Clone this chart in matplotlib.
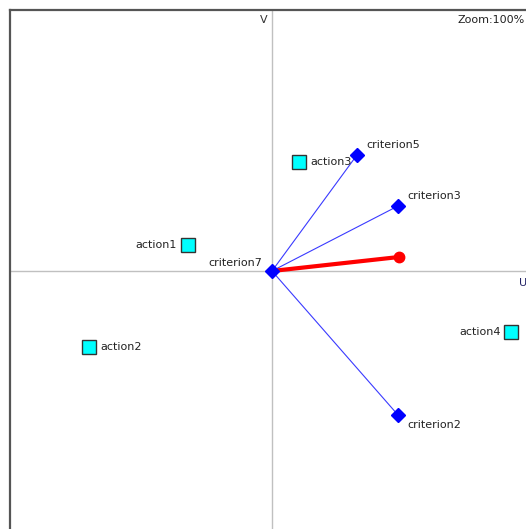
import matplotlib
matplotlib.use("Agg")
import matplotlib.pyplot as plt


# criteria (blue diamonds, joined to the origin)
crit_names = ["criterion7", "criterion5", "criterion3", "criterion2"]
crit_u = [0.0, 0.85, 1.26, 1.26]
crit_v = [0.0, 1.16, 0.65, -1.44]

# decision axis (red)
pi_u = 1.27
pi_v = 0.14

# actions (cyan squares)
act_names = ["action1", "action2", "action3", "action4"]
act_u = [-0.84, -1.83, 0.27, 2.39]
act_v = [0.26, -0.76, 1.09, -0.61]

# label placement (offset in points, alignment)
crit_place = {
    "criterion7": ((-7, 6), "right"),
    "criterion5": ((6.5, 7), "left"),
    "criterion3": ((7, 7), "left"),
    "criterion2": ((7, -7), "left"),
}
act_place = {
    "action1": ((-8, 0), "right"),
    "action2": ((8, 0), "left"),
    "action3": ((8, 0), "left"),
    "action4": ((-7, 0), "right"),
}

fig = plt.figure(figsize=(5.26, 5.29), dpi=100)
ax = fig.add_axes([10 / 526, 0, 516 / 526, 519 / 529])
ax.set_xlim(-2.62, 2.54)
ax.set_ylim(-2.58, 2.61)

for s in ["right", "bottom"]:
    ax.spines[s].set_visible(False)
for s in ["left", "top"]:
    ax.spines[s].set_color("#555555")
    ax.spines[s].set_linewidth(1.6)
ax.set_xticks([])
ax.set_yticks([])

# axes through the origin
ax.axhline(0, color="#c0c0c0", lw=1, zorder=1)
ax.axvline(0, color="#c0c0c0", lw=1, zorder=1)

# criteria lines
for u, v in zip(crit_u, crit_v):
    ax.plot([0, u], [0, v], color="#3a3aff", lw=0.8, zorder=2)

# red pi axis
ax.plot([0, pi_u], [0, pi_v], color="red", lw=3, zorder=3)
ax.plot(pi_u, pi_v, "o", color="red", ms=7.5, zorder=4)

ax.plot(crit_u, crit_v, "D", color="#0000ff", ms=7, ls="none", zorder=5)
for n, u, v in zip(crit_names, crit_u, crit_v):
    off, ha = crit_place[n]
    ax.annotate(n, (u, v), xytext=off, textcoords="offset points",
                ha=ha, va="center", fontsize=8, color="#222222")

ax.plot(act_u, act_v, "s", color="cyan", mec="#333333", mew=1, ms=9.5,
        ls="none", zorder=5)
for n, u, v in zip(act_names, act_u, act_v):
    off, ha = act_place[n]
    ax.annotate(n, (u, v), xytext=off, textcoords="offset points",
                ha=ha, va="center", fontsize=8, color="#222222")

fig.text(268 / 526, 1 - 20 / 529, "V", ha="right", va="center",
         fontsize=8, color="#333333")
fig.text(519 / 526, 1 - 283 / 529, "U", ha="left", va="center",
         fontsize=8, color="#222266")
fig.text(457 / 526, 1 - 20 / 529, "Zoom:100%", ha="left", va="center",
         fontsize=8, color="#222222")

fig.savefig("out.png", dpi=100)
